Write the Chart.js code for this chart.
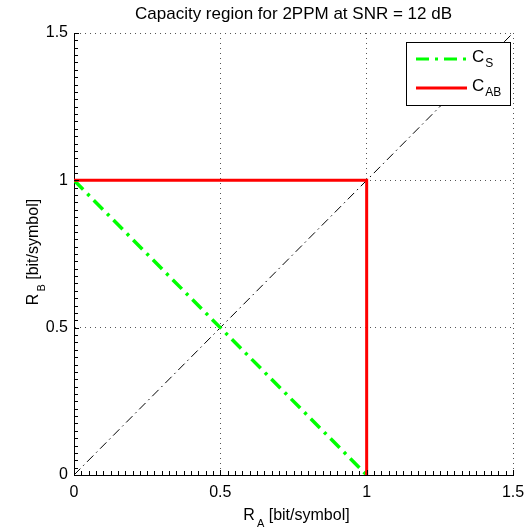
<!DOCTYPE html>
<html>
<head>
<meta charset="utf-8">
<script src="https://cdn.jsdelivr.net/npm/chart.js@4/dist/chart.umd.min.js"></script>
<style>
  html, body { margin: 0; padding: 0; background: #fff; }
  #capacityChart { display: block; }
</style>
</head>
<body>
<canvas id="capacityChart" width="528" height="528"></canvas>
<script>
const FONT = '"Liberation Sans", Arial, Helvetica, sans-serif';

// rate pairs (R_A, R_B) in bit/symbol
const symRateA = [0, 1];
const symRateB = [1, 0];
const abRateA = [0, 1, 1];
const abRateB = [1, 1, 0];
const diagRateA = [0, 1.5];
const diagRateB = [0, 1.5];

const axisMin = 0;
const axisMax = 1.5;
const majorStep = 0.5;
const minorStep = 0.025;

const toPoints = (xs, ys) => xs.map((x, i) => ({ x: x, y: ys[i] }));

const GREEN = "#00ff00";
const RED = "#ff0000";
const GREEN_DASH = [13, 6, 3, 6];

function drawMinorTicks(chart) {
  const ctx = chart.ctx;
  const xs = chart.scales.x;
  const ys = chart.scales.y;
  const area = chart.chartArea;
  const left = Math.round(area.left);
  const bottom = Math.round(area.bottom);
  ctx.save();
  ctx.setLineDash([]);
  ctx.fillStyle = "#000";
  const n = Math.round((axisMax - axisMin) / minorStep);
  for (let i = 0; i <= n; i++) {
    const v = axisMin + i * minorStep;
    const len = i % Math.round(majorStep / minorStep) === 0 ? 5 : 4;
    const px = Math.round(xs.getPixelForValue(v));
    const py = Math.round(ys.getPixelForValue(v));
    ctx.fillRect(px, bottom - len, 1, len);
    ctx.fillRect(left, py, len, 1);
  }
  ctx.restore();
}

// inward minor ticks, axis titles with subscripts, and the legend box
const decorPlugin = {
  id: "decor",
  afterDraw(chart) {
    drawMinorTicks(chart);

    const ctx = chart.ctx;
    const area = chart.chartArea;
    ctx.save();
    ctx.setLineDash([]);
    ctx.fillStyle = "#000";
    ctx.textBaseline = "alphabetic";

    // x axis title
    drawSubText(ctx, (area.left + area.right) / 2 + 3, 520, "R", "A", " [bit/symbol]");

    // y axis title, rotated
    ctx.save();
    ctx.translate(38, (area.top + area.bottom) / 2 - 2);
    ctx.rotate(-Math.PI / 2);
    drawSubText(ctx, 0, 0, "R", "B", " [bit/symbol]");
    ctx.restore();

    // legend
    const bw = 104, bh = 63;
    const bx = area.right - 3 - bw;
    const by = area.top + 9;
    ctx.fillStyle = "#fff";
    ctx.fillRect(bx, by, bw, bh);
    ctx.strokeStyle = "#000";
    ctx.lineWidth = 1;
    ctx.strokeRect(Math.round(bx) + 0.5, Math.round(by) + 0.5, bw, bh);

    const lx0 = bx + 10, lx1 = bx + 61;
    const rows = [
      { y: by + 17, color: GREEN, dash: GREEN_DASH, sub: "S" },
      { y: by + 46, color: RED, dash: [], sub: "AB" }
    ];
    rows.forEach((r) => {
      ctx.strokeStyle = r.color;
      ctx.lineWidth = 3;
      ctx.setLineDash(r.dash);
      ctx.beginPath();
      ctx.moveTo(lx0, r.y);
      ctx.lineTo(lx1, r.y);
      ctx.stroke();
      ctx.setLineDash([]);
      ctx.fillStyle = "#000";
      ctx.textAlign = "left";
      ctx.font = "17px " + FONT;
      ctx.fillText("C", bx + 66, r.y + 3);
      const cw = ctx.measureText("C").width;
      ctx.font = "12px " + FONT;
      ctx.fillText(r.sub, bx + 66 + cw + 1, r.y + 8);
    });
    ctx.restore();
  }
};

function drawSubText(ctx, cx, baseY, main, sub, rest) {
  ctx.font = "16px " + FONT;
  const wMain = ctx.measureText(main).width;
  const wRest = ctx.measureText(rest).width;
  ctx.font = "11px " + FONT;
  const wSub = ctx.measureText(sub).width;
  const total = wMain + 2 + wSub + wRest;
  let x = cx - total / 2;
  ctx.textAlign = "left";
  ctx.font = "16px " + FONT;
  ctx.fillText(main, x, baseY);
  x += wMain + 2;
  ctx.font = "11px " + FONT;
  ctx.fillText(sub, x, baseY + 7);
  x += wSub;
  ctx.font = "16px " + FONT;
  ctx.fillText(rest, x, baseY);
}

const gridColor = (c) => {
  const v = c.tick ? c.tick.value : 0;
  return v > axisMin + 1e-9 ? "#555" : "rgba(0,0,0,0)";
};

const tickLabel = (v) => String(Math.round(v * 10) / 10);

new Chart(document.getElementById("capacityChart"), {
  type: "scatter",
  data: {
    datasets: [
      {
        label: "C_AB",
        data: toPoints(abRateA, abRateB),
        showLine: true,
        borderColor: RED,
        borderWidth: 3,
        pointRadius: 0,
        order: 1
      },
      {
        label: "C_S",
        data: toPoints(symRateA, symRateB),
        showLine: true,
        borderColor: GREEN,
        borderWidth: 3.5,
        borderDash: GREEN_DASH,
        pointRadius: 0,
        order: 2
      },
      {
        label: "diagonal",
        data: toPoints(diagRateA, diagRateB),
        showLine: true,
        borderColor: "#000",
        borderWidth: 1,
        borderDash: [9, 4, 1.5, 4],
        pointRadius: 0,
        order: 3
      }
    ]
  },
  options: {
    responsive: false,
    animation: false,
    layout: { padding: { top: 0, right: 15, bottom: 0, left: 0 } },
    plugins: {
      legend: { display: false },
      tooltip: { enabled: false },
      title: {
        display: true,
        fullSize: false,
        text: "Capacity region for 2PPM at SNR = 12 dB",
        color: "#000",
        font: { family: FONT, size: 17, weight: "normal" },
        padding: { top: 4, bottom: 8.6 }
      }
    },
    scales: {
      x: {
        type: "linear",
        min: axisMin,
        max: axisMax,
        afterFit(scale) {
          scale.height = 53;
          scale.paddingLeft = 0;
          scale.paddingRight = 0;
        },
        ticks: {
          stepSize: majorStep,
          color: "#000",
          padding: 8,
          font: { family: FONT, size: 16 },
          callback: tickLabel
        },
        grid: { color: gridColor, lineWidth: 1, drawTicks: false },
        border: { display: true, color: "#000", width: 1, dash: [1, 4] }
      },
      y: {
        type: "linear",
        min: axisMin,
        max: axisMax,
        afterFit(scale) {
          scale.width = 74;
          scale.paddingTop = 0;
          scale.paddingBottom = 0;
        },
        ticks: {
          stepSize: majorStep,
          color: "#000",
          padding: 6,
          font: { family: FONT, size: 16 },
          callback: tickLabel
        },
        grid: { color: gridColor, lineWidth: 1, drawTicks: false },
        border: { display: true, color: "#000", width: 1, dash: [1, 4] }
      }
    }
  },
  plugins: [decorPlugin]
});
</script>
</body>
</html>
